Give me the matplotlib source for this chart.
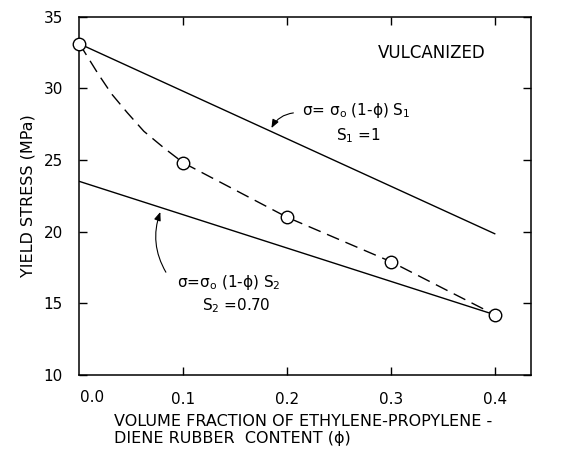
import matplotlib
matplotlib.use("Agg")
import matplotlib.pyplot as plt
from matplotlib.transforms import blended_transform_factory

plt.rcParams['font.family'] = ['DejaVu Sans']
plt.rcParams['mathtext.default'] = 'regular'

# ---- data ----
phi_points = [0.0, 0.1, 0.2, 0.3, 0.4]
stress_points = [33.1, 24.8, 21.0, 17.9, 14.2]

curve_phi = [0.0, 0.018, 0.031, 0.046, 0.062, 0.082, 0.1, 0.2, 0.3, 0.4]
curve_stress = [33.1, 31.0, 29.6, 28.3, 27.0, 25.8, 24.8, 21.0, 17.9, 14.2]

# model lines  sigma = sigma0 (1 - phi) S
line1_phi = [0.0, 0.4]
line1_stress = [33.1, 19.85]      # S1 = 1
line2_phi = [0.0, 0.4]
line2_stress = [23.5, 14.2]       # S2 = 0.70

xticks = [0.1, 0.2, 0.3, 0.4]
xtick_labels = ['0.0', '0.1', '0.2', '0.3', '0.4']
yticks = [10, 15, 20, 25, 30, 35]

fig = plt.figure(figsize=(5.76, 4.49), dpi=100)
ax = fig.add_axes([0.138, 0.165, 0.784, 0.798])

ax.plot(line1_phi, line1_stress, color='black', lw=1.0)
ax.plot(line2_phi, line2_stress, color='black', lw=1.0)
ax.plot(curve_phi, curve_stress, color='black', lw=1.0,
        linestyle=(0, (9.4, 5.0)))
ax.plot(phi_points, stress_points, linestyle='none', marker='o', ms=9,
        mfc='white', mec='black', mew=1.0, clip_on=False, zorder=5)

ax.set_xlim(0.0, 0.435)
ax.set_ylim(10, 35)
ax.set_xticks(xticks)
ax.set_xticklabels(xtick_labels[1:])
ax.set_yticks(yticks)
ax.tick_params(direction='in', length=6, width=1.0, top=True, right=True,
               labelsize=11, pad=12)
# label for the origin, sitting just right of the left spine
trans = blended_transform_factory(ax.transData, ax.transAxes)
ax.text(0.012, -0.063, xtick_labels[0], transform=trans, ha='center',
        va='center', fontsize=11)

for s in ax.spines.values():
    s.set_linewidth(1.1)

ax.set_ylabel('YIELD STRESS (MPa)', fontsize=11.5, labelpad=6)
fig.text(0.198, 0.042, 'VOLUME FRACTION OF ETHYLENE-PROPYLENE -\nDIENE RUBBER  CONTENT (ϕ)',
         ha='left', va='center', fontsize=11.5, linespacing=1.2)

ax.text(0.391, 32.45, 'VULCANIZED', ha='right', va='center', fontsize=12)

ax.text(0.214, 28.45, 'σ= σ$_o$ (1-ϕ) S$_1$', ha='left', va='center', fontsize=11)
ax.text(0.269, 26.7, 'S$_1$ =1', ha='center', va='center', fontsize=11)
ax.annotate('', xy=(0.1837, 27.05), xytext=(0.2087, 28.3),
            arrowprops=dict(arrowstyle='-|>,head_length=0.5,head_width=0.2',
                            connectionstyle='arc3,rad=0.3', color='black', lw=0.8))

ax.text(0.094, 16.45, 'σ=σ$_o$ (1-ϕ) S$_2$', ha='left', va='center', fontsize=11)
ax.text(0.151, 14.85, 'S$_2$ =0.70', ha='center', va='center', fontsize=11)
ax.annotate('', xy=(0.0788, 21.55), xytext=(0.0846, 17.0),
            arrowprops=dict(arrowstyle='-|>,head_length=0.5,head_width=0.2',
                            connectionstyle='arc3,rad=-0.25', color='black', lw=0.8))

fig.savefig('out.png', dpi=100)
